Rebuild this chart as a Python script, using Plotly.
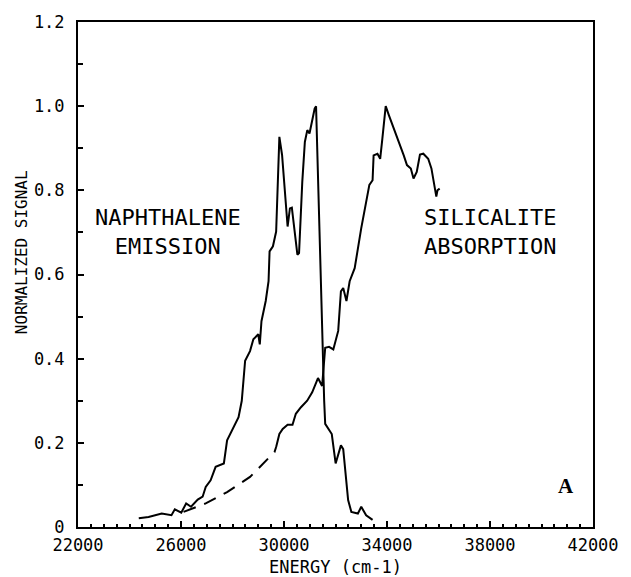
import plotly.graph_objects as go

# Naphthalene emission (energy cm-1, normalized signal)
emis_x = [24360, 24740, 25250, 25630, 25760, 26010, 26200, 26390, 26650, 26840,
          26960, 27150, 27345, 27475, 27665, 27790, 28045, 28235, 28360, 28490,
          28680, 28810, 29000, 29060, 29125, 29290, 29400, 29440, 29570, 29695,
          29820, 29925, 30140, 30230, 30305, 30395, 30520, 30585, 30710, 30810,
          30905, 30990, 31095, 31190, 31245, 31330, 31410, 31480, 31560, 31600,
          31855, 32005, 32210, 32300, 32490, 32615, 32870, 33000, 33190, 33440]
emis_y = [0.021, 0.024, 0.032, 0.028, 0.042, 0.034, 0.056, 0.048, 0.065, 0.072,
          0.095, 0.111, 0.143, 0.147, 0.151, 0.206, 0.237, 0.261, 0.300, 0.395,
          0.418, 0.446, 0.458, 0.434, 0.489, 0.537, 0.584, 0.655, 0.667, 0.702,
          0.927, 0.884, 0.714, 0.757, 0.759, 0.710, 0.647, 0.651, 0.820, 0.915,
          0.943, 0.935, 0.966, 0.994, 1.000, 0.800, 0.584, 0.420, 0.300, 0.245,
          0.221, 0.151, 0.194, 0.185, 0.064, 0.036, 0.032, 0.048, 0.028, 0.017]

# Silicalite absorption, measured part (solid)
abs_x = [29695, 29820, 29950, 30140, 30330, 30460, 30650, 30900, 31095, 31320,
         31480, 31600, 31750, 31915, 32105, 32210, 32300, 32425, 32550, 32745,
         33000, 33190, 33315, 33440, 33480, 33630, 33735, 33820, 33950, 34075,
         34270, 34455, 34650, 34775, 34925, 35030, 35155, 35280, 35410, 35600,
         35725, 35915, 35960, 36045]
abs_y = [0.190, 0.221, 0.233, 0.243, 0.243, 0.269, 0.284, 0.300, 0.320, 0.354,
         0.335, 0.426, 0.428, 0.422, 0.466, 0.560, 0.568, 0.537, 0.584, 0.615,
         0.710, 0.773, 0.813, 0.824, 0.883, 0.887, 0.875, 0.923, 1.000, 0.978,
         0.946, 0.919, 0.883, 0.860, 0.852, 0.828, 0.844, 0.885, 0.887, 0.875,
         0.852, 0.785, 0.800, 0.804]

# Silicalite absorption, extrapolated part (dashed)
ext_x = [26100, 26960, 27790, 28680, 29630, 29695]
ext_y = [0.036, 0.056, 0.083, 0.119, 0.178, 0.190]

x_ticks = [22000, 26000, 30000, 34000, 38000, 42000]
y_ticks = [0, 0.2, 0.4, 0.6, 0.8, 1.0, 1.2]
y_labels = ["0", "0.2", "0.4", "0.6", "0.8", "1.0", "1.2"]

FONT = "DejaVu Sans Mono"
TXT = dict(family=FONT, size=22, color="black")

fig = go.Figure()
fig.add_trace(go.Scatter(x=ext_x, y=ext_y, mode="lines",
                         line=dict(color="black", width=2, dash="13px,9px")))
fig.add_trace(go.Scatter(x=emis_x, y=emis_y, mode="lines",
                         line=dict(color="black", width=2)))
fig.add_trace(go.Scatter(x=abs_x, y=abs_y, mode="lines",
                         line=dict(color="black", width=2)))

fig.add_annotation(x=25480, y=0.700, text="NAPHTHALENE<br>EMISSION", showarrow=False,
                   font=TXT, align="center")
fig.add_annotation(x=38000, y=0.700, text="SILICALITE<br>ABSORPTION", showarrow=False,
                   font=TXT, align="center")
fig.add_annotation(x=40970, y=0.097, text="<b>A</b>", showarrow=False,
                   font=dict(family="Liberation Serif", size=21, color="black"))

# axis titles
fig.add_annotation(xref="paper", yref="paper", x=0.5, y=-0.080, text="ENERGY (cm-1)",
                   showarrow=False, xanchor="center", yanchor="middle",
                   font=dict(family=FONT, size=17, color="black"))
fig.add_annotation(xref="paper", yref="paper", x=-0.110, y=0.545, text="NORMALIZED SIGNAL",
                   showarrow=False, xanchor="center", yanchor="middle", textangle=-90,
                   font=dict(family=FONT, size=16, color="black"))

fig.update_layout(
    width=631, height=577,
    margin=dict(l=78, r=28, t=18, b=50),
    paper_bgcolor="white", plot_bgcolor="white",
    showlegend=False,
    font=dict(family=FONT, size=17, color="black"),
)
fig.update_xaxes(range=[22000, 42000], tickvals=x_ticks, ticktext=[str(v) for v in x_ticks],
                 ticks="inside", ticklen=6, tickwidth=1.5, tickcolor="black",
                 ticklabelstandoff=2,
                 minor=dict(dtick=500, ticks="inside", ticklen=3, tickcolor="black", tickwidth=1.5),
                 showline=True, linecolor="black", linewidth=2, mirror=True,
                 showgrid=False, zeroline=False)
fig.update_yaxes(range=[0, 1.2], tickvals=y_ticks, ticktext=y_labels,
                 ticks="inside", ticklen=6, tickwidth=1.5, tickcolor="black",
                 ticklabelstandoff=8,
                 minor=dict(dtick=0.1, ticks="inside", ticklen=5, tickcolor="black", tickwidth=1.5),
                 showline=True, linecolor="black", linewidth=2, mirror=True,
                 showgrid=False, zeroline=False)

fig.write_html("out.html")
